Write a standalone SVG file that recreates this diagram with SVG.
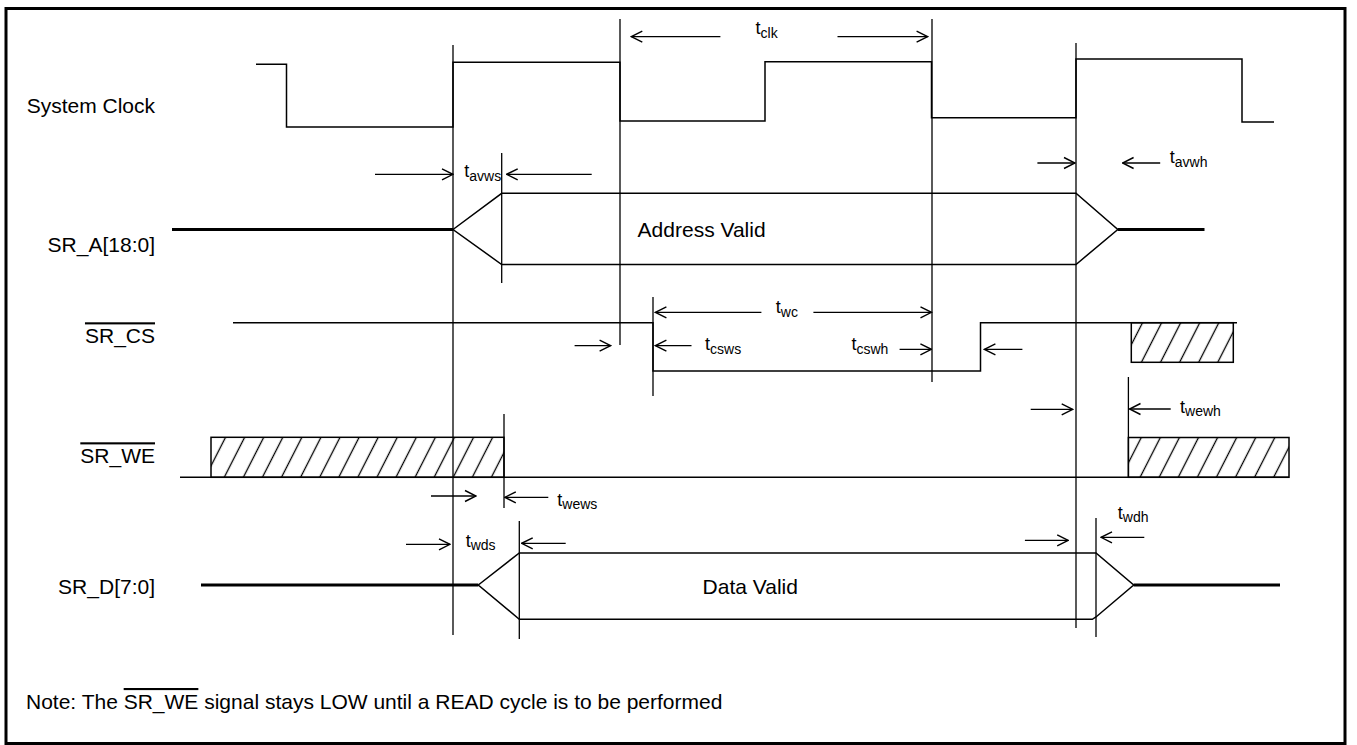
<svg xmlns="http://www.w3.org/2000/svg" width="1357" height="745" viewBox="0 0 1357 745">
<style>
  .lbl { font-family: "Liberation Sans", Arial, sans-serif; font-size: 21px; fill: #000; }
  .t { font-family: "Liberation Sans", Arial, sans-serif; font-size: 18px; fill: #000; }
  .sub { font-size: 14px; }
  .wave { fill: none; stroke: #000; stroke-width: 1.5; }
  .bus { fill: none; stroke: #000; stroke-width: 3; }
  .ref { fill: none; stroke: #000; stroke-width: 1.3; }
  .arr { fill: none; stroke: #000; stroke-width: 1.3; marker-end: url(#ah); }
  .hat { fill: url(#hatch); stroke: #000; stroke-width: 1.5; }
  .ovl { text-decoration: overline; }
</style>
<defs>
  <marker id="ah" viewBox="-12 -7 13 14" markerWidth="13" markerHeight="14" refX="0" refY="0" orient="auto" markerUnits="userSpaceOnUse">
    <path d="M-11,-5.5 L0,0 L-11,5.5" fill="none" stroke="#000" stroke-width="1.4"/>
  </marker>
  <pattern id="hatch" patternUnits="userSpaceOnUse" width="17" height="17" patternTransform="rotate(27)">
    <line x1="8.5" y1="-1" x2="8.5" y2="18" stroke="#000" stroke-width="1.3"/>
  </pattern>
</defs>
<rect x="0" y="0" width="1357" height="745" fill="#fff"/>
<rect id="frame" x="6" y="8.5" width="1339" height="735" fill="none" stroke="#000" stroke-width="3"/>

<g id="reference-lines">
  <line class="ref" x1="453" y1="45" x2="453" y2="635"/>
  <line class="ref" x1="620" y1="19" x2="620" y2="345"/>
  <line class="ref" x1="932" y1="19" x2="932" y2="382"/>
  <line class="ref" x1="1076" y1="43" x2="1076" y2="628"/>
  <line class="ref" x1="501.7" y1="153" x2="501.7" y2="283"/>
  <line class="ref" x1="653" y1="297" x2="653" y2="396"/>
  <line class="ref" x1="504" y1="414" x2="504" y2="508"/>
  <line class="ref" x1="519.3" y1="521" x2="519.3" y2="639"/>
  <line class="ref" x1="1096" y1="518" x2="1096" y2="637"/>
  <line class="ref" x1="1128.4" y1="377" x2="1128.4" y2="477"/>
</g>

<g id="system-clock">
  <text class="lbl" x="155" y="113.3" text-anchor="end">System Clock</text>
  <polyline class="wave" points="256,64.3 286.5,64.3 286.5,127 453,127 453,62.3 620,62.3 620,121 765,121 765,61.7 931.5,61.7 931.5,117.7 1076,117.7 1076,59 1242,59 1242,122 1274,122"/>
</g>

<g id="sr-a">
  <text class="lbl" x="155" y="252" text-anchor="end">SR_A[18:0]</text>
  <line class="bus" x1="172" y1="229.5" x2="453" y2="229.5"/>
  <path class="wave" d="M453,229.5 L501.7,193.3 L1076,193.3 L1117.8,229.5 L1076,264.5 L501.7,264.5 Z"/>
  <line class="bus" x1="1117.8" y1="229.5" x2="1204.5" y2="229.5"/>
  <text class="lbl" x="637.6" y="236.7">Address Valid</text>
</g>

<g id="sr-cs">
  <text class="lbl" x="155" y="343.3" text-anchor="end"><tspan class="ovl">SR_CS</tspan></text>
  <polyline class="wave" points="233,322.7 653,322.7 653,371 980.5,371 980.5,322.7 1237,322.7"/>
  <rect class="hat" x="1131.3" y="322.7" width="102" height="39.6"/>
</g>

<g id="sr-we">
  <text class="lbl" x="155" y="463.3" text-anchor="end"><tspan class="ovl">SR_WE</tspan></text>
  <line class="wave" x1="180" y1="477.3" x2="1289" y2="477.3"/>
  <rect class="hat" x="211" y="437.3" width="293" height="40"/>
  <rect class="hat" x="1128.4" y="437.5" width="160.6" height="39.8"/>
</g>

<g id="sr-d">
  <text class="lbl" x="155" y="594" text-anchor="end">SR_D[7:0]</text>
  <line class="bus" x1="201" y1="585" x2="478.3" y2="585"/>
  <path class="wave" d="M478.3,585 L519.3,553 L1096,553 L1133.7,585 L1096,617 L1092.3,619.3 L519.3,619.3 Z"/>
  <line class="bus" x1="1133.7" y1="585" x2="1280" y2="585"/>
  <text class="lbl" x="702.6" y="594.3">Data Valid</text>
</g>

<g id="connectors">
  <line class="arr" x1="720.4" y1="36.7" x2="631.3" y2="36.7"/>
  <line class="arr" x1="837.5" y1="36.7" x2="927.6" y2="36.7"/>
  <line class="arr" x1="375" y1="174.3" x2="453" y2="174.3"/>
  <line class="arr" x1="591.7" y1="174.3" x2="506.7" y2="174.3"/>
  <line class="arr" x1="1037.4" y1="163" x2="1075" y2="163"/>
  <line class="arr" x1="1160.2" y1="163" x2="1122.6" y2="163"/>
  <line class="arr" x1="761.4" y1="312.3" x2="655.4" y2="312.3"/>
  <line class="arr" x1="813.4" y1="312.3" x2="931.5" y2="312.3"/>
  <line class="arr" x1="574.6" y1="345.7" x2="610.6" y2="345.7"/>
  <line class="arr" x1="691.5" y1="345.7" x2="655.4" y2="345.7"/>
  <line class="arr" x1="899.6" y1="349.3" x2="931.4" y2="349.3"/>
  <line class="arr" x1="1022.4" y1="349.3" x2="984.4" y2="349.3"/>
  <line class="arr" x1="1030.7" y1="409.3" x2="1072.7" y2="409.3"/>
  <line class="arr" x1="1170.7" y1="409" x2="1129.5" y2="409"/>
  <line class="arr" x1="431" y1="496" x2="476" y2="496"/>
  <line class="arr" x1="548.3" y1="497.3" x2="504.8" y2="497.3"/>
  <line class="arr" x1="406" y1="544.3" x2="450" y2="544.3"/>
  <line class="arr" x1="565.7" y1="543.3" x2="521.7" y2="543.3"/>
  <line class="arr" x1="1024.9" y1="540.3" x2="1068.2" y2="540.3"/>
  <line class="arr" x1="1144.3" y1="537.3" x2="1101" y2="537.3"/>
</g>

<g id="timing-labels">
  <text class="t" x="755.6" y="34.3">t<tspan class="sub" dy="3.5">clk</tspan></text>
  <text class="t" x="464.3" y="176.5">t<tspan class="sub" dy="4">avws</tspan></text>
  <text class="t" x="1169.8" y="163.3">t<tspan class="sub" dy="3.5">avwh</tspan></text>
  <text class="t" x="775.8" y="313">t<tspan class="sub" dy="3.5">wc</tspan></text>
  <text class="t" x="705" y="350">t<tspan class="sub" dy="3.5">csws</tspan></text>
  <text class="t" x="851.4" y="350">t<tspan class="sub" dy="3.5">cswh</tspan></text>
  <text class="t" x="1180" y="412.5">t<tspan class="sub" dy="3">wewh</tspan></text>
  <text class="t" x="557.3" y="505.5">t<tspan class="sub" dy="3.8">wews</tspan></text>
  <text class="t" x="465.7" y="546.7">t<tspan class="sub" dy="3.5">wds</tspan></text>
  <text class="t" x="1117.8" y="519">t<tspan class="sub" dy="3.2">wdh</tspan></text>
</g>

<g id="note">
  <text class="lbl" x="26" y="709">Note: The <tspan class="ovl">SR_WE</tspan> signal stays LOW until a READ cycle is to be performed</text>
</g>
</svg>
